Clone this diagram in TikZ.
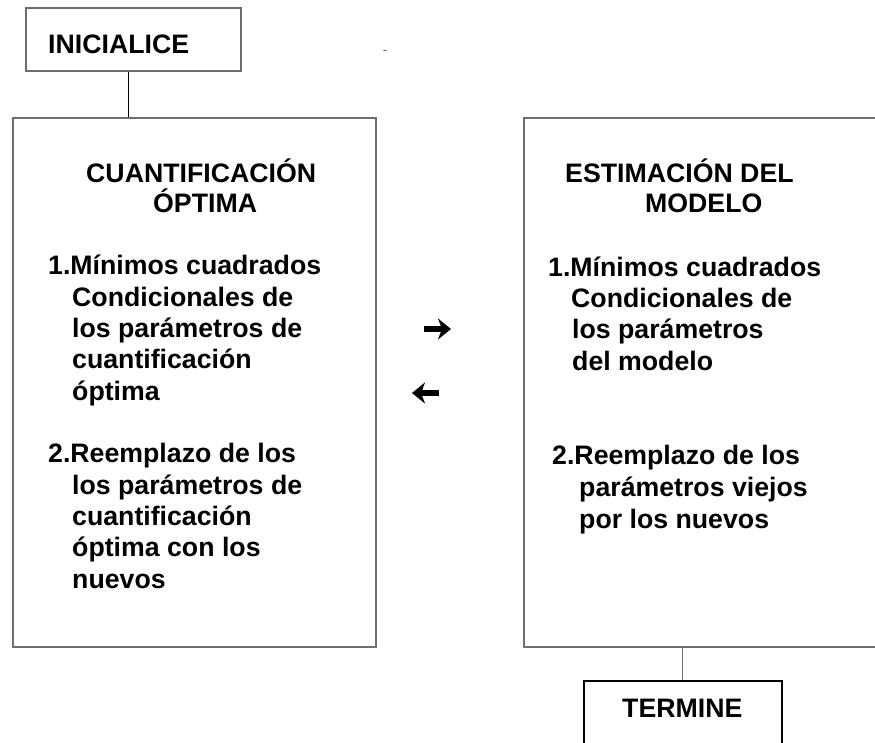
\documentclass[tikz,border=0pt]{standalone}
\usepackage{fontspec}
\setmainfont{Liberation Sans}
\usetikzlibrary{arrows.meta}
\definecolor{boxgray}{RGB}{110,110,110}
\definecolor{dashgray}{RGB}{90,90,90}

\begin{document}
\begin{tikzpicture}[x=1pt, y=-1pt,
    box/.style={draw=boxgray, line width=1.5pt, rectangle, inner sep=0pt, anchor=north west},
    txt/.style={anchor=base west, align=left, inner sep=0pt, font=\bfseries\fontsize{26.7}{31.3}\selectfont},
    flow/.style={line width=6pt, -{Stealth[length=13pt,width=21pt,inset=4pt]}}]
    \useasboundingbox (0,0) rectangle (875,742);
    % boxes
    \node[box, minimum width=215pt, minimum height=63pt] (ini) at (25,7) {};
    \node[box, minimum width=363pt, minimum height=529pt] (cuant) at (12,117) {};
    \node[box, minimum width=360pt, minimum height=529pt] (estim) at (523,117) {};
    \node[box, draw=black, minimum width=198pt, minimum height=70pt] (term) at (583,680) {};
    % links
    \draw[line width=1pt] ([xshift=-4.5pt]ini.south) -- ([xshift=-4.5pt]ini.south |- cuant.north);
    \draw[line width=1pt, draw=boxgray] (term.north) -- (term.north |- estim.south);
    % texts (anchored on the baseline of their last line)
    \node[txt] (initxt) at (48,53) {INICIALICE};
    \node[txt] (termtxt) at (622,717) {TERMINE};
    \node[anchor=base, inner sep=0pt, text=dashgray, font=\fontsize{13}{13}\selectfont] (dash) at (385,54) {-};
    \node[txt] (tit1) at (86,212) {CUANTIFICACIÓN\\[-1.3pt]\hspace*{67pt}ÓPTIMA};
    \node[txt] (lst1a) at (48,400) {1.Mínimos cuadrados\\\hspace*{24pt}Condicionales de\\\hspace*{24pt}los parámetros de\\\hspace*{24pt}cuantificación\\\hspace*{24pt}óptima};
    \node[txt] (lst1b) at (48,588) {2.Reemplazo de los\\\hspace*{24pt}los parámetros de\\\hspace*{24pt}cuantificación\\\hspace*{24pt}óptima con los\\\hspace*{24pt}nuevos};
    \node[txt] (tit2) at (565,212) {ESTIMACIÓN DEL\\[-1.3pt]\hspace*{80pt}MODELO};
    \node[txt] (lst2a) at (548,370) {1.Mínimos cuadrados\\\hspace*{23pt}Condicionales de\\\hspace*{24pt}los parámetros\\\hspace*{24pt}del modelo};
    \node[txt] (lst2b) at (552,528) {2.Reemplazo de los\\[1.2pt]\hspace*{27pt}parámetros viejos\\\hspace*{27pt}por los nuevos};
    % arrows between the boxes
    \coordinate (fwa) at (424,329);
    \coordinate (fwb) at (451,329);
    \coordinate (bka) at (439,393);
    \coordinate (bkb) at (412,393);
    \draw[flow] (fwa) -- (fwb);
    \draw[flow] (bka) -- (bkb);
\end{tikzpicture}
\end{document}
